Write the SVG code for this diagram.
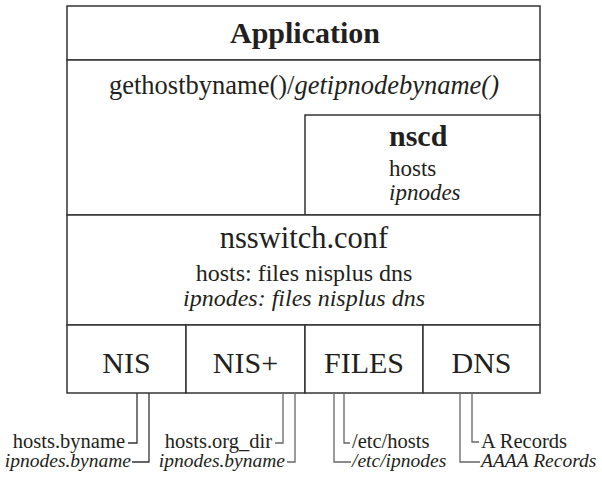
<svg xmlns="http://www.w3.org/2000/svg" width="602" height="478" viewBox="0 0 602 478">
<style>
text{font-family:'Liberation Serif','DejaVu Serif','Noto Serif',serif;fill:#231f20}
.b{font-weight:bold}
.i{font-style:italic}
.box{fill:#fff;stroke:#333;stroke-width:1.5}
.ln{fill:none;stroke:#333;stroke-width:1.3}
.lg{fill:none;stroke:#666;stroke-width:1.3}
.lab{font-size:20.5px}
.labi{font-size:19.5px;font-style:italic}
</style>
<rect width="602" height="478" fill="#fff"/>
<g id="application">
<rect class="box" x="67" y="6" width="473" height="54"/>
<text class="b" x="305" y="43" font-size="30" text-anchor="middle">Application</text>
</g>
<g id="resolver">
<rect class="box" x="67" y="60" width="473" height="155"/>
<text x="304" y="94" font-size="26.5" text-anchor="middle">gethostbyname()/<tspan class="i">getipnodebyname()</tspan></text>
</g>
<g id="nscd">
<rect class="box" x="305" y="115" width="235" height="100"/>
<text class="b" x="389" y="146" font-size="30">nscd</text>
<text x="389" y="176" font-size="23">hosts</text>
<text class="i" x="389" y="200" font-size="23">ipnodes</text>
</g>
<g id="nsswitch">
<rect class="box" x="67" y="215" width="473" height="110"/>
<text x="304" y="248" font-size="30.5" text-anchor="middle">nsswitch.conf</text>
<text x="304" y="281" font-size="24" text-anchor="middle">hosts: files nisplus dns</text>
<text class="i" x="304" y="306" font-size="24" text-anchor="middle">ipnodes: files nisplus dns</text>
</g>
<g id="nis">
<rect class="box" x="67" y="325" width="119" height="68"/>
<text x="126.5" y="373" font-size="30" text-anchor="middle">NIS</text>
</g>
<g id="nisplus">
<rect class="box" x="186" y="325" width="119" height="68"/>
<text x="245.5" y="373" font-size="30" text-anchor="middle">NIS+</text>
</g>
<g id="files">
<rect class="box" x="305" y="325" width="118" height="68"/>
<text x="364" y="373" font-size="30" text-anchor="middle">FILES</text>
</g>
<g id="dns">
<rect class="box" x="423" y="325" width="117" height="68"/>
<text x="481.5" y="373" font-size="30" text-anchor="middle">DNS</text>
</g>
<g id="connectors">
<polyline class="ln" points="137,393 137,443 128,443"/>
<polyline class="ln" points="149,393 149,462 132,462"/>
<polyline class="lg" points="283,393 283,443 275,443"/>
<polyline class="lg" points="295,393 295,462 287,462"/>
<polyline class="lg" points="344,393 344,443 350,443"/>
<polyline class="lg" points="334,393 334,462 351,462"/>
<polyline class="lg" points="472,393 472,442 479,442"/>
<polyline class="lg" points="460,393 460,462 480,462"/>
</g>
<g id="labels">
<text class="lab" x="125" y="448" text-anchor="end">hosts.byname</text>
<text class="labi" x="131" y="467" text-anchor="end">ipnodes.byname</text>
<text class="lab" x="272" y="448" text-anchor="end">hosts.org_dir</text>
<text class="labi" x="285" y="467" text-anchor="end">ipnodes.byname</text>
<text class="lab" x="352" y="448" font-size="22">/etc/hosts</text>
<text class="labi" x="352" y="467" font-size="21">/etc/ipnodes</text>
<text class="lab" x="481" y="448">A Records</text>
<text class="labi" x="481" y="467">AAAA Records</text>
</g>
</svg>
